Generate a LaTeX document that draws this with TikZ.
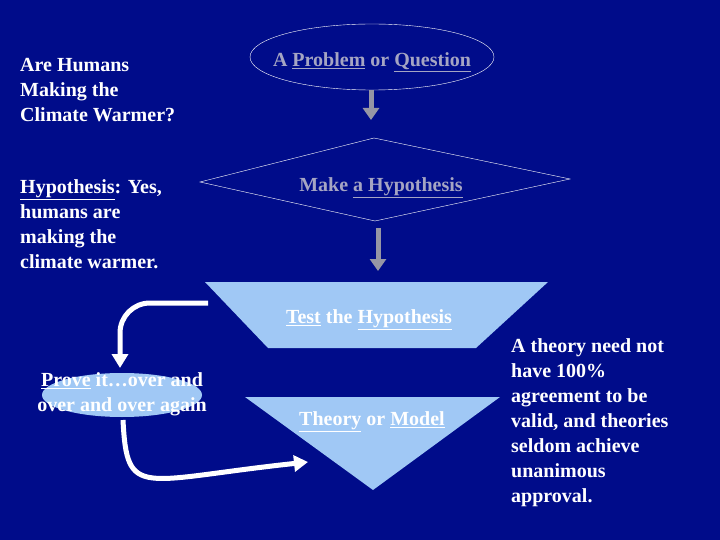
\documentclass[tikz,border=0pt]{standalone}
\usepackage{fontspec}
\setmainfont{Liberation Serif}
\usetikzlibrary{arrows.meta}
\definecolor{bg}{RGB}{0,12,138}
\definecolor{gtxt}{RGB}{165,165,195}
\definecolor{lblue}{RGB}{160,200,245}
\definecolor{garrow}{RGB}{150,150,165}
\tikzset{
 txt/.style={text=white,font=\fontsize{20}{25}\selectfont\bfseries,anchor=west,align=left,inner sep=0},
 gtx/.style={text=gtxt,font=\fontsize{20}{25}\selectfont\bfseries,inner sep=0},
 wtx/.style={text=white,font=\fontsize{20}{25}\selectfont\bfseries,inner sep=0},
 garr/.style={garrow,line width=5pt,-{Triangle[length=12pt,width=16pt]}},
 warr/.style={white,line width=5pt,rounded corners=30pt,-{Triangle[length=14pt,width=16pt]}},
 shp/.style={fill=lblue}
}
\begin{document}
\begin{tikzpicture}[x=1pt,y=-1pt]
\fill[bg] (0,0) rectangle (720,540);
\useasboundingbox (0,0) rectangle (720,540);
% left texts
\node[txt] (q) at (20,90) {\fontsize{20}{29}\selectfont Are Humans\\Making the\\Climate Warmer?};
\node[txt] (h) at (20,224) {\fontsize{20}{25}\selectfont \underline{Hypothesis}: Yes,\\humans are\\making the\\climate warmer.};
\node[txt] (r) at (511,423) {\fontsize{20}{28.7}\selectfont A theory need not\\have 100\%\\agreement to be\\valid, and theories\\seldom achieve\\unanimous\\approval.};
% ellipse
\draw[white,thin] (372,57) ellipse[x radius=122,y radius=33];
\node[gtx] (p) at (372,62) {A \underline{Problem} or \underline{Question}};
\coordinate (a1s) at (371,90); \coordinate (a1e) at (371,120);
\draw[garr] (a1s) -- (a1e);
% diamond
\draw[white,thin] (374,138) -- (570,179) -- (375,221) -- (200,182) -- cycle;
\node[gtx] (m) at (381,188) {Make \underline{a Hypothesis}};
\coordinate (a2s) at (378,228); \coordinate (a2e) at (378,271);
\draw[garr] (a2s) -- (a2e);
% trapezoid
\fill[shp] (205,282) -- (548,282) -- (476,348) -- (268,348) -- cycle;
\node[wtx] (t) at (369,320) {\underline{Test} the \underline{Hypothesis}};
% triangle
\fill[shp] (245,397) -- (500,397) -- (373,490) -- cycle;
\node[wtx] (th) at (372,422) {\underline{Theory} or \underline{Model}};
% small ellipse
\fill[lblue] (122,395) ellipse[x radius=80,y radius=22];
\node[wtx,align=center] (pv) at (122,394) {\underline{Prove} it\ldots over and\\over and over again};
% white arrows
\coordinate (w1s) at (208,303); \coordinate (w1c) at (120,303); \coordinate (w1e) at (120,368);
\draw[warr] (w1s) -- (w1c) -- (w1e);
\coordinate (w2s) at (123,420); \coordinate (w2c) at (128,480); \coordinate (w2e) at (308,462);
\draw[white,line width=5pt,-{Triangle[length=14pt,width=16pt]}] (w2s) .. controls (127,500) and (140,480) .. (w2e);
\end{tikzpicture}
\end{document}
